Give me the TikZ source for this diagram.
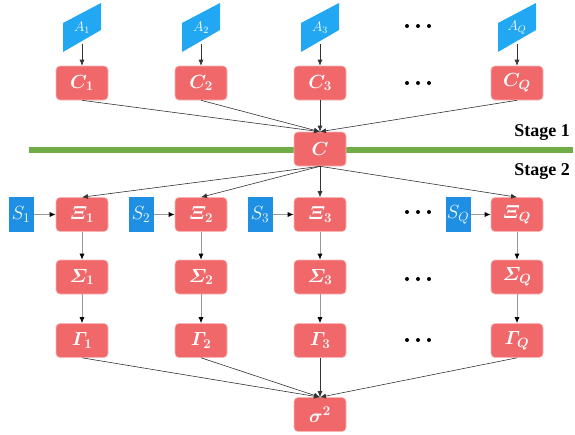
\RequirePackage{fix-cm}
\documentclass[tikz,border=0pt]{standalone}
\usepackage{amsmath}
\usepackage{bm}
\usepackage{fontspec}
\setmainfont{Liberation Serif}
\usetikzlibrary{arrows.meta}

\definecolor{boxred}{HTML}{F0686A}
\definecolor{boxedge}{HTML}{F6B4B4}
\definecolor{ablue}{HTML}{22A7F2}
\definecolor{sblue}{HTML}{1E8FE2}
\definecolor{stagegreen}{HTML}{70AD47}
\definecolor{linedark}{HTML}{333333}
\definecolor{linegray}{HTML}{999999}

\tikzset{
  var/.style={draw=boxedge, line width=0.6pt, fill=boxred, rounded corners=4pt,
    minimum width=52pt, minimum height=34pt, inner sep=0pt, text=white,
    font=\fontsize{19}{21}\selectfont},
  obs/.style={fill=sblue, minimum width=25pt, minimum height=35pt, inner sep=0pt,
    text=white, font=\fontsize{19}{21}\selectfont},
  alabel/.style={inner sep=0pt, text=white, font=\fontsize{14}{16}\selectfont},
  arr/.style={draw=linedark, line width=0.6pt, -{Latex[length=6pt,width=5pt]}},
  garr/.style={draw=linegray, line width=0.8pt, -{Latex[length=6pt,width=5pt,color=black]}},
  stage/.style={font=\bfseries\fontsize{18}{20}\selectfont, anchor=base east, inner sep=0pt},
  dot/.style={circle, fill=black, inner sep=0pt, minimum size=4pt}
}

\newcommand{\parafill}[1]{%
  \fill[ablue] (#1-19,52) -- (#1-19,23) -- (#1+19,3) -- (#1+19,30) -- cycle;}
\newcommand{\dotrow}[1]{%
  \node[dot] at (407,#1) {}; \node[dot] at (418,#1) {}; \node[dot] at (429,#1) {};}

\begin{document}
\begin{tikzpicture}[x=1pt,y=-1pt]
\useasboundingbox (0,0) rectangle (575,434);

% stage separator
\fill[stagegreen] (29,146.5) rectangle (573,152.5);
\node[stage] (st1) at (570,136) {Stage 1};
\node[stage] (st2) at (570,175) {Stage 2};

% parameter inputs A_q
\parafill{82}\parafill{201}\parafill{320}\parafill{517}
\node[alabel] (a1) at (82,28) {$A_{1}$};
\node[alabel] (a2) at (201,28) {$A_{2}$};
\node[alabel] (a3) at (320,28) {$A_{3}$};
\node[alabel] (aq) at (517,28) {$A_{Q}$};
\coordinate (a1b) at (82,44);
\coordinate (a2b) at (201,44);
\coordinate (a3b) at (320,44);
\coordinate (aqb) at (517,44);

% first stage
\node[var] (c1) at (82,83) {$\bm{C_{1}}$};
\node[var] (c2) at (201,83) {$\bm{C_{2}}$};
\node[var] (c3) at (320,83) {$\bm{C_{3}}$};
\node[var] (cq) at (517,83) {$\bm{C_{Q}}$};
\node[var] (c) at (320,149) {$\bm{C}$};

% second stage
\node[obs] (s1) at (21,214.5) {$S_{1}$};
\node[obs] (s2) at (141,214.5) {$S_{2}$};
\node[obs] (s3) at (260,214.5) {$S_{3}$};
\node[obs] (sq) at (458,214.5) {$S_{Q}$};

\node[var] (x1) at (82,214.5) {$\bm{\varXi_{1}}$};
\node[var] (x2) at (201,214.5) {$\bm{\varXi_{2}}$};
\node[var] (x3) at (320,214.5) {$\bm{\varXi_{3}}$};
\node[var] (xq) at (517,214.5) {$\bm{\varXi_{Q}}$};

\node[var] (g1) at (82,277) {$\bm{\varSigma_{1}}$};
\node[var] (g2) at (201,277) {$\bm{\varSigma_{2}}$};
\node[var] (g3) at (320,277) {$\bm{\varSigma_{3}}$};
\node[var] (gq) at (517,277) {$\bm{\varSigma_{Q}}$};

\node[var] (h1) at (82,340.5) {$\bm{\varGamma_{1}}$};
\node[var] (h2) at (201,340.5) {$\bm{\varGamma_{2}}$};
\node[var] (h3) at (320,340.5) {$\bm{\varGamma_{3}}$};
\node[var] (hq) at (517,340.5) {$\bm{\varGamma_{Q}}$};

\node[var] (sig) at (320,414.5) {$\bm{\sigma^{2}}$};

% ellipses between the third and last columns
\dotrow{26}\dotrow{83}\dotrow{212}\dotrow{279}\dotrow{340}

% connectors
\foreach \i in {1,2,3,q} {
  \draw[arr] (a\i b) -- (c\i.north);
  \draw[arr] (c\i.south) -- (c.north);
  \draw[arr] (c.south) -- (x\i.north);
  \draw[garr] (s\i.east) -- (x\i.west);
  \draw[garr] (x\i.south) -- (g\i.north);
  \draw[garr] (g\i.south) -- (h\i.north);
  \draw[arr] (h\i.south) -- (sig.north);
}
\end{tikzpicture}
\end{document}
